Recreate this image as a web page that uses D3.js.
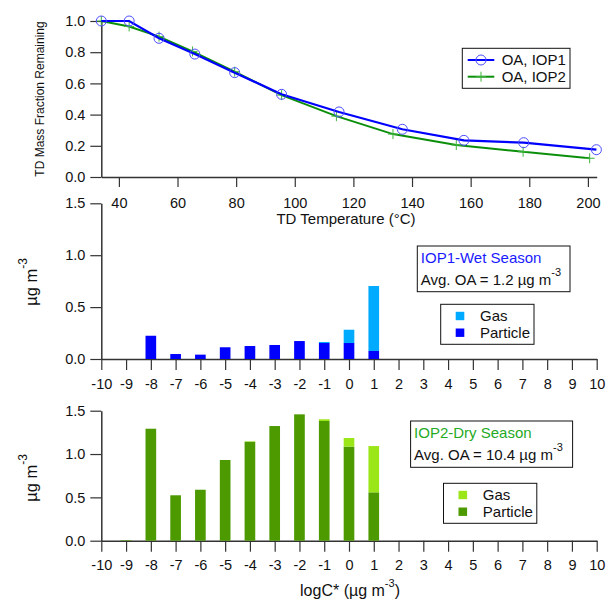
<!DOCTYPE html>
<html><head><meta charset="utf-8">
<script src="https://cdn.jsdelivr.net/npm/d3@7"></script>
<style>
body{margin:0;background:#fff;}
svg{font-family:"Liberation Sans",Arial,sans-serif;}
</style></head>
<body><svg id="c" width="606" height="605"></svg>
<script>
// ---------- data ----------
const temps1 = [34, 43.5, 53.7, 65.9, 79.5, 95.5, 115.1, 136.7, 157.7, 178.1, 202.9];
const frac1  = [1.0, 1.0, 0.889, 0.788, 0.669, 0.530, 0.417, 0.306, 0.235, 0.220, 0.175];
const temps2 = [34, 43.5, 53.7, 65.1, 79.5, 95.5, 114.2, 133.5, 155.1, 177.9, 200.6];
const frac2  = [1.0, 0.965, 0.90, 0.805, 0.675, 0.525, 0.39, 0.275, 0.205, 0.162, 0.12];
const seriesNames = ["OA, IOP1", "OA, IOP2"];
const tempTicks = [40, 60, 80, 100, 120, 140, 160, 180, 200];
const fracTicks = [0, 0.2, 0.4, 0.6, 0.8, 1.0];

const logC = [-10, -9, -8, -7, -6, -5, -4, -3, -2, -1, 0, 1, 2, 3, 4, 5, 6, 7, 8, 9, 10];
const iop1Particle = [0, 0, 0.224, 0.048, 0.042, 0.113, 0.125, 0.135, 0.173, 0.154, 0.154, 0.077, 0, 0, 0, 0, 0, 0, 0, 0, 0];
const iop1Gas      = [0, 0, 0, 0, 0, 0, 0, 0, 0, 0.01, 0.128, 0.626, 0, 0, 0, 0, 0, 0, 0, 0, 0];
const iop2Particle = [0, 0.006, 1.292, 0.524, 0.588, 0.931, 1.142, 1.323, 1.458, 1.381, 1.085, 0.558, 0, 0, 0, 0, 0, 0, 0, 0, 0];
const iop2Gas      = [0, 0, 0, 0, 0, 0, 0.005, 0, 0, 0.02, 0.10, 0.534, 0, 0, 0, 0, 0, 0, 0, 0, 0];
const massTicks = [0, 0.5, 1.0, 1.5];
const panelTitles = ["IOP1-Wet Season", "IOP2-Dry Season"];
const avgOA = ["1.2", "10.4"];
const partLabels = ["Gas", "Particle"];

// ---------- colors ----------
const cBlue = "#0000ff", cBlueMk = "#4d4dff";
const cGreen = "#0b8f0b", cGreenMk = "#3fb53f";
const c1Gas = "#00aaff", c1Part = "#0000ff";
const c2Gas = "#9ae619", c2Part = "#4c9900";
const cTitle1 = "#1a1aff", cTitle2 = "#1faa1f";

const svg = d3.select("#c");
const FS = 14.5;

function styleAxis(g) {
  g.selectAll(".domain").attr("stroke", "#333").attr("stroke-width", 1.5);
  g.selectAll(".tick line").attr("stroke", "#333").attr("stroke-width", 1.2);
  g.selectAll("text").attr("font-size", FS).attr("fill", "#111")
    .attr("font-family", '"Liberation Sans",Arial,sans-serif');
}

// ---------- top panel ----------
const xT = d3.scaleLinear([34, 203], [101.3, 596.7]);
const yT = d3.scaleLinear([0, 1], [177, 21]);

const gyT = svg.append("g").attr("transform", "translate(101.3,0)")
  .call(d3.axisLeft(yT).tickValues(fracTicks).tickFormat(d3.format(".1f")).tickSize(11).tickSizeOuter(0).tickPadding(5));
styleAxis(gyT);
const gxT = svg.append("g").attr("transform", "translate(0,177)")
  .call(d3.axisBottom(xT).tickValues(tempTicks).tickFormat(d => String(d)).tickSize(10).tickSizeOuter(0));
styleAxis(gxT);
gxT.selectAll("text").attr("y", 25.5).attr("dy", "0.35em");

svg.append("text").attr("x", 346).attr("y", 218.5).attr("dy", "0.35em")
  .attr("text-anchor", "middle").attr("font-size", 15).attr("fill", "#111")
  .text("TD Temperature (°C)");
svg.append("text").attr("transform", "translate(40,99) rotate(-90)")
  .attr("dy", "0.35em").attr("text-anchor", "middle").attr("font-size", 12).attr("fill", "#111")
  .text("TD Mass Fraction Remaining");

const line = d3.line();
const pts1 = temps1.map((t, i) => [xT(t), yT(frac1[i])]);
const pts2 = temps2.map((t, i) => [xT(t), yT(frac2[i])]);
svg.append("path").attr("d", line(pts2)).attr("fill", "none").attr("stroke", cGreen).attr("stroke-width", 2);
svg.selectAll(".cr").data(pts2).enter().append("path")
  .attr("d", d => `M${d[0]-5},${d[1]}H${d[0]+5}M${d[0]},${d[1]-5}V${d[1]+5}`)
  .attr("stroke", cGreenMk).attr("stroke-width", 1).attr("fill", "none");
svg.append("path").attr("d", line(pts1)).attr("fill", "none").attr("stroke", cBlue).attr("stroke-width", 2.2);
svg.selectAll(".ci").data(pts1).enter().append("circle")
  .attr("cx", d => d[0]).attr("cy", d => d[1]).attr("r", 5)
  .attr("fill", "none").attr("stroke", cBlueMk).attr("stroke-width", 1);

// top legend
const lg = svg.append("g");
lg.append("rect").attr("x", 462.3).attr("y", 48.3).attr("width", 107.7).attr("height", 40)
  .attr("fill", "#fff").attr("stroke", "#111").attr("stroke-width", 1);
[[cBlue, 60], [cGreen, 76.7]].forEach(([c, y], i) => {
  lg.append("line").attr("x1", 467.7).attr("x2", 494.3).attr("y1", y).attr("y2", y)
    .attr("stroke", c).attr("stroke-width", 2);
  if (i === 0) lg.append("circle").attr("cx", 481).attr("cy", y).attr("r", 5)
    .attr("fill", "none").attr("stroke", cBlueMk).attr("stroke-width", 1);
  else lg.append("path").attr("d", `M476,${y}H486M481,${y-5}V${y+5}`)
    .attr("stroke", cGreenMk).attr("stroke-width", 1);
  lg.append("text").attr("x", 501.7).attr("y", y).attr("dy", "0.35em")
    .attr("font-size", 15).attr("fill", "#111").text(seriesNames[i]);
});

// ---------- bar panels ----------
const xM = d3.scaleLinear([-10, 10], [101.3, 596.7]);
const bw = 0.43;

function barPanel(y0, y15, part, gas, cPart, cGas, cTitle, title, avg, box, leg, titleY) {
  const y = d3.scaleLinear([0, 1.5], [y0, y15]);
  const gy = svg.append("g").attr("transform", "translate(101.3,0)")
    .call(d3.axisLeft(y).tickValues(massTicks).tickFormat(d3.format(".1f")).tickSize(11).tickSizeOuter(0).tickPadding(5));
  styleAxis(gy);
  const gx = svg.append("g").attr("transform", `translate(0,${y0})`)
    .call(d3.axisBottom(xM).tickValues(logC).tickFormat(d => String(d)).tickSize(11).tickSizeOuter(0));
  styleAxis(gx);
  gx.selectAll("text").attr("y", 24.5).attr("dy", "0.35em");

  const bars = svg.append("g");
  logC.forEach((c, i) => {
    const x0 = xM(c - bw / 2), w = xM(c + bw / 2) - x0;
    if (part[i] > 0) bars.append("rect").attr("x", x0).attr("width", w)
      .attr("y", y(part[i])).attr("height", y0 - y(part[i])).attr("fill", cPart);
    if (gas[i] > 0) bars.append("rect").attr("x", x0).attr("width", w)
      .attr("y", y(part[i] + gas[i])).attr("height", y(part[i]) - y(part[i] + gas[i])).attr("fill", cGas);
  });

  // y title
  const t = svg.append("text").attr("transform", `translate(37,${titleY}) rotate(-90)`)
    .attr("text-anchor", "middle").attr("font-size", 16.5).attr("fill", "#111");
  t.append("tspan").text("µg m");
  t.append("tspan").attr("font-size", 12).attr("dy", -10).text("-3");

  // info box
  svg.append("rect").attr("x", box.x).attr("y", box.y).attr("width", box.w).attr("height", box.h)
    .attr("fill", "#fff").attr("stroke", "#111").attr("stroke-width", 1);
  svg.append("text").attr("x", box.x + 3.5).attr("y", box.y + 11.7).attr("dy", "0.35em")
    .attr("font-size", 15).attr("fill", cTitle).text(title);
  const a = svg.append("text").attr("x", box.x + 3.5).attr("y", box.y + 39.3)
    .attr("font-size", 15).attr("fill", "#111");
  a.append("tspan").text(`Avg. OA = ${avg} µg m`);
  a.append("tspan").attr("font-size", 11).attr("dy", -9).text("-3");

  // legend
  svg.append("rect").attr("x", leg.x).attr("y", leg.y).attr("width", 93.3).attr("height", 40)
    .attr("fill", "#fff").attr("stroke", "#111").attr("stroke-width", 1);
  [[cGas, 11.7], [cPart, 28.4]].forEach(([c, dy], i) => {
    svg.append("rect").attr("x", leg.x + 15).attr("y", leg.y + dy - 4.2).attr("width", 8.6).attr("height", 8.4)
      .attr("fill", c);
    svg.append("text").attr("x", leg.x + 39.3).attr("y", leg.y + dy).attr("dy", "0.35em")
      .attr("font-size", 15).attr("fill", "#111").text(partLabels[i]);
  });
}

barPanel(359, 203.3, iop1Particle, iop1Gas, c1Part, c1Gas, cTitle1, panelTitles[0], avgOA[0],
  {x: 417.3, y: 246, w: 152.7, h: 45.7}, {x: 440.7, y: 304.3}, 282);
barPanel(540.7, 410.7, iop2Particle, iop2Gas, c2Part, c2Gas, cTitle2, panelTitles[1], avgOA[1],
  {x: 410.6, y: 421, w: 162, h: 46.3}, {x: 443.5, y: 483.3}, 478);

// bottom x title
const xt = svg.append("text").attr("x", 350).attr("y", 596).attr("text-anchor", "middle")
  .attr("font-size", 16).attr("fill", "#111");
xt.append("tspan").text("logC* (µg m");
xt.append("tspan").attr("font-size", 11).attr("dy", -9).text("-3");
xt.append("tspan").attr("dy", 9).text(")");
</script></body></html>
